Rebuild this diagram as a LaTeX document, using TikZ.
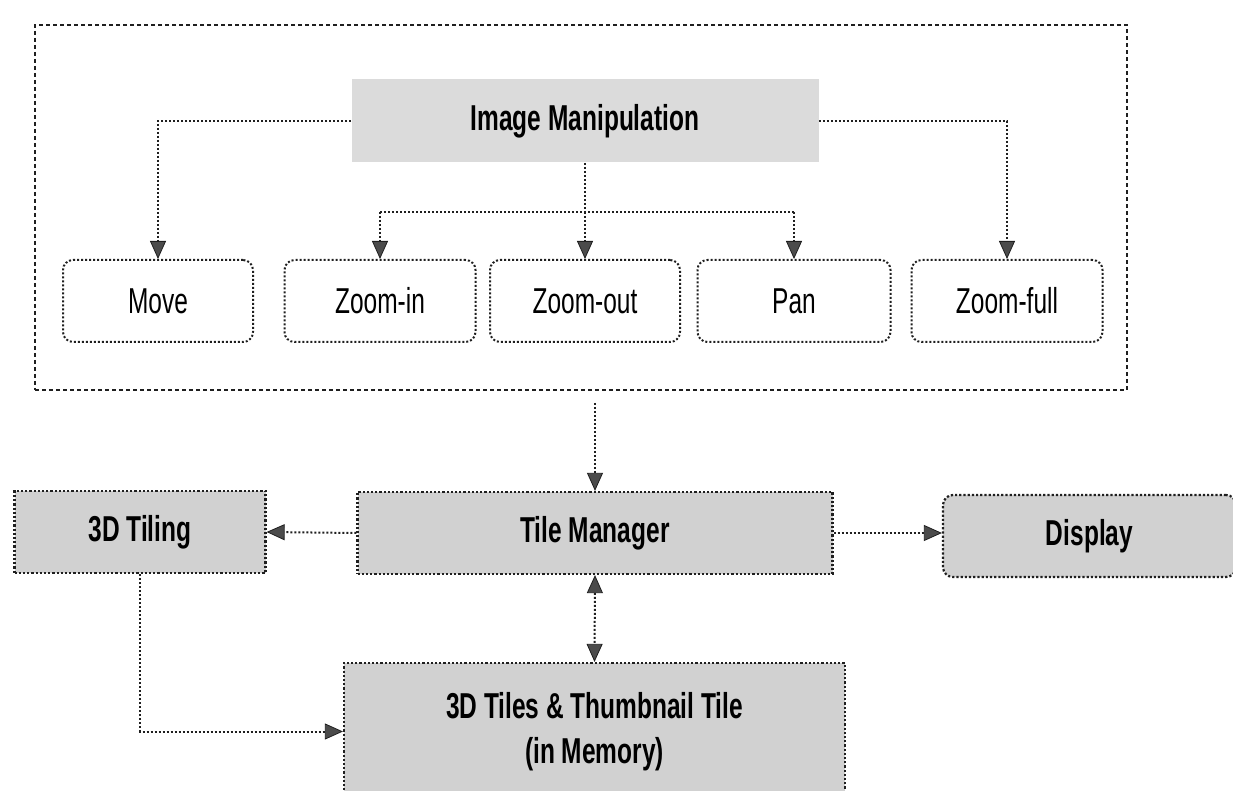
\documentclass[tikz,border=0pt]{standalone}
\usepackage{fontspec}
\setmainfont{Liberation Sans}[FakeStretch=0.68]
\usetikzlibrary{arrows.meta}
\definecolor{boxgrey}{gray}{0.82}
\definecolor{imgrey}{gray}{0.86}
\definecolor{linegrey}{gray}{0.12}
\tikzset{
  x=0.5pt, y=-0.5pt,
  every node/.style={font=\fontsize{18pt}{22.5pt}\selectfont, align=center, inner sep=0pt},
  framebox/.style={draw=linegrey, line width=0.7pt, dash pattern=on 2pt off 1.5pt},
  opbox/.style={draw=linegrey, fill=white, line width=1pt, densely dotted, rounded corners=5pt, minimum height=41pt},
  greybox/.style={draw=linegrey, fill=boxgrey, line width=1.1pt, densely dotted, minimum height=41pt, font=\fontsize{18pt}{22.5pt}\selectfont\bfseries},
  headbox/.style={fill=imgrey, minimum width=233.5pt, minimum height=41.5pt, font=\fontsize{18pt}{22.5pt}\selectfont\bfseries},
  conn/.style={draw=linegrey, line width=1pt, densely dotted},
  arr/.style={conn, -{Triangle[length=9pt,width=8pt,fill=linegrey!80,line width=0.4pt]}},
  darr/.style={conn, {Triangle[length=9pt,width=8pt,fill=linegrey!80,line width=0.4pt]}-{Triangle[length=9pt,width=8pt,fill=linegrey!80,line width=0.4pt]}}
}
\begin{document}
\begin{tikzpicture}
\useasboundingbox (0,0) rectangle (1233,791);
\begin{scope}
\clip (0,0) rectangle (1233,791);
% outer frame
\node[framebox, minimum width=546pt, minimum height=182.5pt] (frame) at (581,207.5) {};
% top part
\node[headbox] (im) at (585,121) {Image Manipulation};
\node[opbox, minimum width=95pt] (move) at (158,301) {Move};
\node[opbox, minimum width=95.5pt] (zin) at (380,301) {Zoom-in};
\node[opbox, minimum width=95pt] (zout) at (585,301) {Zoom-out};
\node[opbox, minimum width=96.5pt] (pan) at (794,301) {Pan};
\node[opbox, minimum width=95.5pt] (zfull) at (1007,301) {Zoom-full};
\coordinate (bus) at (585,212);
\draw[arr] (im.west) -| (move.north);
\draw[arr] (im.east) -| (zfull.north);
\draw[conn] (im.south) -- (bus);
\draw[conn] (zin.north |- bus) -- (pan.north |- bus);
\draw[arr] (zin.north |- bus) -- (zin.north);
\draw[arr] (bus) -- (zout.north);
\draw[arr] (pan.north |- bus) -- (pan.north);
% bottom part
\node[greybox, minimum width=237.5pt] (tm) at (595,533) {Tile Manager};
\node[greybox, minimum width=125.5pt] (tiling) at (140,532) {3D Tiling};
\node[greybox, rounded corners=5pt, minimum width=146.5pt] (disp) at (1089.5,536) {Display};
\node[greybox, minimum width=250.5pt, minimum height=68.5pt] (mem) at (594.5,731.5) {3D Tiles \& Thumbnail Tile\\(in Memory)};
\coordinate (fout) at (595,403);
\draw[arr] (fout) -- (tm.north);
\draw[arr] (tm.west) -- (tiling.east);
\draw[arr] (tm.east) -- (tm.east -| disp.west);
\draw[darr] (tm.south) -- (mem.north);
\draw[arr] (tiling.south) |- (mem.west);
\end{scope}
\end{tikzpicture}
\end{document}
